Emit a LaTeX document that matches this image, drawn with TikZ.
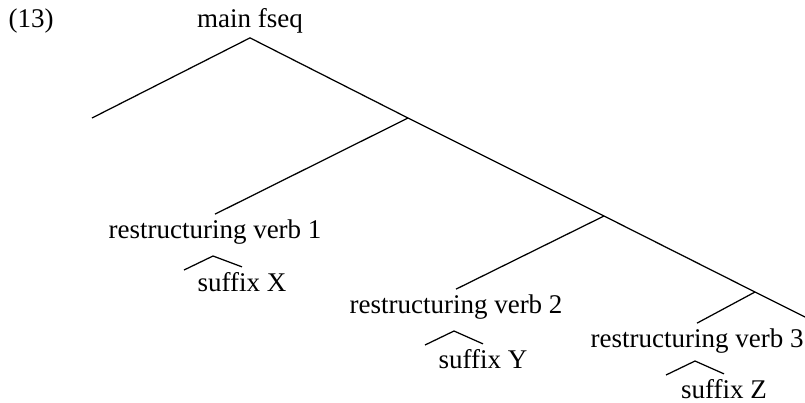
\documentclass[tikz,border=0pt]{standalone}
\usepackage{fontspec}
\setmainfont{Liberation Serif}

\begin{document}
\begin{tikzpicture}[x=0.4pt,y=-0.4pt,line width=0.5pt,
  lbl/.style={inner xsep=0pt,inner ysep=1.8pt,anchor=base,font=\fontsize{10.8}{13}\selectfont}]
  \useasboundingbox (0,0) rectangle (805,402);
  \node[lbl,anchor=base west] (ex) at (8,27) {(13)};
  \node[lbl] (root) at (250,27) {main fseq};
  % spine
  \coordinate (e0) at (92,118);
  \coordinate (j1) at (408,118);
  \coordinate (j2) at (604,216);
  \coordinate (j3) at (755,292);
  \coordinate (e4) at (805,317);
  \draw (e0) -- (root.south) -- (j1) -- (j2) -- (j3) -- (e4);
  % verbs
  \node[lbl] (v1) at (215,238) {restructuring verb 1};
  \node[lbl] (v2) at (456,313) {restructuring verb 2};
  \node[lbl] (v3) at (697,347) {restructuring verb 3};
  \draw (j1) -- (v1.north);
  \draw (j2) -- (v2.north);
  \draw (j3) -- (v3.north);
  % suffixes
  \coordinate (p1) at (213,256); \coordinate (l1) at (184,270);
  \coordinate (p2) at (454,331); \coordinate (l2) at (425,345);
  \coordinate (p3) at (695,361); \coordinate (l3) at (666,375);
  \node[lbl] (sx) at (242,291) {suffix X};
  \node[lbl] (sy) at (483,368) {suffix Y};
  \node[lbl] (sz) at (724,398) {suffix Z};
  \draw (l1) -- (p1) -- (sx.north);
  \draw (l2) -- (p2) -- (sy.north);
  \draw (l3) -- (p3) -- (sz.north);
\end{tikzpicture}
\end{document}
